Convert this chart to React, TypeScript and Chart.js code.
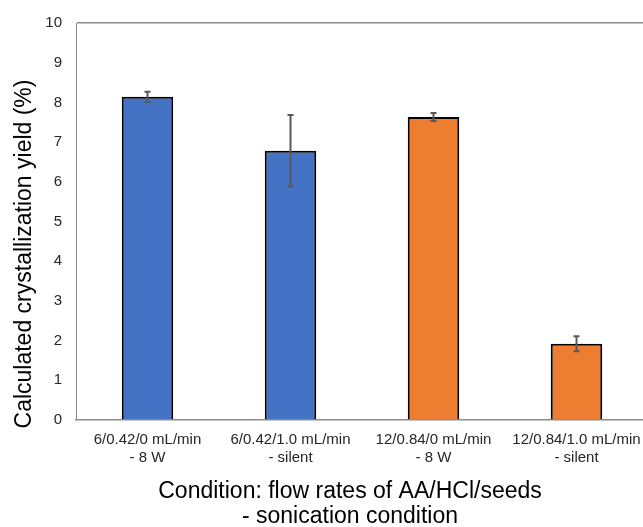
import React, { useEffect, useRef } from "react";
import { Chart, registerables } from "chart.js";

Chart.register(...registerables);

// Flow-rate / sonication conditions (two-line tick labels)
const conditions: string[][] = [
  ["6/0.42/0 mL/min", "- 8 W"],
  ["6/0.42/1.0 mL/min", "- silent"],
  ["12/0.84/0 mL/min", "- 8 W"],
  ["12/0.84/1.0 mL/min", "- silent"],
];

// Mean calculated crystallization yield (%) and standard deviation
const yieldMean: number[] = [8.14, 6.78, 7.63, 1.92];
const yieldSd: number[] = [0.13, 0.9, 0.1, 0.19];

const barColors: string[] = ["#4472C4", "#4472C4", "#ED7D31", "#ED7D31"];

const yTitle = "Calculated crystallization yield (%)";
const xTitle: string[] = ["Condition: flow rates of AA/HCl/seeds", "- sonication condition"];

const FONT = "'Liberation Sans', Arial, sans-serif";

// Draws vertical error bars with small caps over each bar
const errorBarPlugin = {
  id: "errorBars",
  afterDatasetsDraw(chart: any) {
    const { ctx } = chart;
    const meta = chart.getDatasetMeta(0);
    const yScale = chart.scales.y;
    ctx.save();
    ctx.strokeStyle = "#595959";
    ctx.lineWidth = 2;
    meta.data.forEach((bar: any, i: number) => {
      const x = bar.x;
      const top = yScale.getPixelForValue(yieldMean[i] + yieldSd[i]);
      const bottom = yScale.getPixelForValue(yieldMean[i] - yieldSd[i]);
      const cap = 3;
      ctx.beginPath();
      ctx.moveTo(x, top);
      ctx.lineTo(x, bottom);
      ctx.moveTo(x - cap, top);
      ctx.lineTo(x + cap, top);
      ctx.moveTo(x - cap, bottom);
      ctx.lineTo(x + cap, bottom);
      ctx.stroke();
    });
    ctx.restore();
  },
};

// Axis titles placed relative to the plot area
const axisTitlePlugin = {
  id: "axisTitles",
  afterDraw(chart: any) {
    const { ctx, chartArea } = chart;
    ctx.save();
    ctx.fillStyle = "#000000";
    ctx.font = `23px ${FONT}`;
    ctx.textAlign = "center";
    ctx.textBaseline = "middle";
    const cx = chartArea.left + 274;
    xTitle.forEach((line, i) => {
      ctx.fillText(line, cx, chartArea.bottom + 72 + i * 25);
    });
    ctx.translate(25, chartArea.top + 231);
    ctx.rotate(-Math.PI / 2);
    ctx.fillText(yTitle, 0, 0);
    ctx.restore();
  },
};

export default function App() {
  const canvasRef = useRef<HTMLCanvasElement | null>(null);

  useEffect(() => {
    if (!canvasRef.current) return;
    const chart = new Chart(canvasRef.current, {
      type: "bar",
      data: {
        labels: conditions,
        datasets: [
          {
            data: yieldMean,
            backgroundColor: barColors,
            borderColor: "#000000",
            borderWidth: 2,
            categoryPercentage: 1,
            barPercentage: 0.36,
          },
        ],
      },
      options: {
        responsive: false,
        animation: false,
        devicePixelRatio: 1,
        layout: { padding: { top: 21, right: 12, bottom: 57, left: 0 } },
        plugins: {
          legend: { display: false },
          tooltip: { enabled: false },
        },
        scales: {
          x: {
            grid: { display: false, drawTicks: false },
            border: { display: true, color: "#8c8c8c", width: 1.5 },
            ticks: {
              color: "#262626",
              font: { family: FONT, size: 15, lineHeight: 1.2 },
              padding: 11,
              maxRotation: 0,
              autoSkip: false,
            },
            afterFit(scale: any) {
              scale.height = 50;
            },
          },
          y: {
            min: 0,
            max: 10,
            grid: {
              drawTicks: false,
              lineWidth: 1.5,
              color: (c: any) => (c.tick && c.tick.value === 10 ? "#8c8c8c" : "rgba(0,0,0,0)"),
            },
            border: { display: true, color: "#8c8c8c", width: 1 },
            ticks: {
              stepSize: 1,
              color: "#262626",
              font: { family: FONT, size: 15 },
              padding: 14,
            },
            afterFit(scale: any) {
              scale.width = 76;
            },
          },
        },
      },
      plugins: [errorBarPlugin, axisTitlePlugin],
    });
    return () => chart.destroy();
  }, []);

  return (
    <div
      style={{
        position: "fixed",
        left: 0,
        top: 0,
        width: 643,
        height: 527,
        overflow: "hidden",
        background: "#ffffff",
      }}
    >
      <canvas ref={canvasRef} width={660} height={527} style={{ display: "block" }} />
    </div>
  );
}
